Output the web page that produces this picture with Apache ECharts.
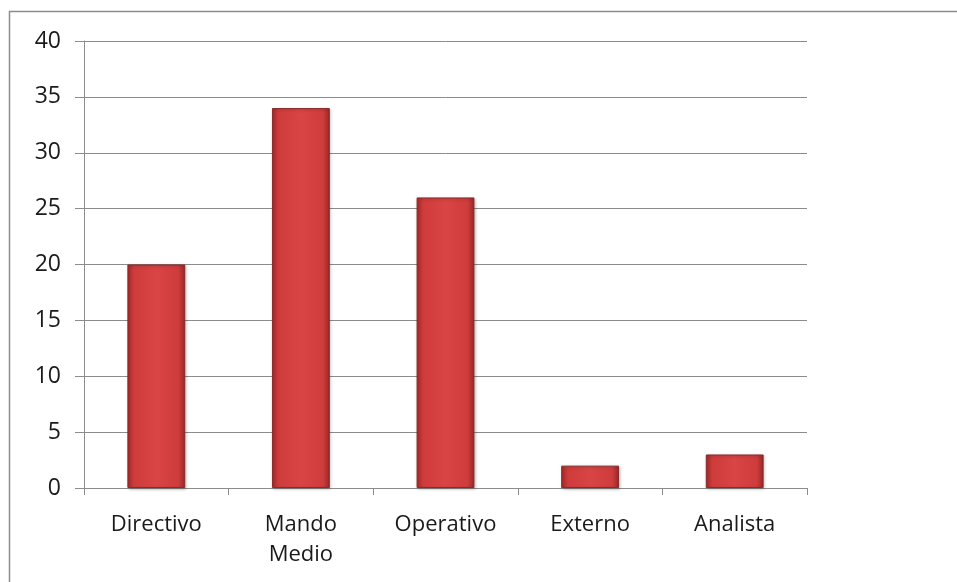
<!DOCTYPE html>
<html><head><meta charset="utf-8">
<script src="https://cdn.jsdelivr.net/npm/echarts@6/dist/echarts.min.js"></script>
<style>html,body{margin:0;padding:0;background:#fff}#c{width:957px;height:582px}</style>
</head><body><div id="c"></div>
<script>
const categories = ['Directivo', 'Mando\nMedio', 'Operativo', 'Externo', 'Analista'];
const values = [20, 34, 26, 2, 3];
const yTicks = {min: 0, max: 40, interval: 5};

const chart = echarts.init(document.getElementById('c'), null, {renderer: 'canvas'});
const font = '"Open Sans", "Liberation Sans", sans-serif';
chart.setOption({
  animation: false,
  backgroundColor: '#fff',
  graphic: [{
    type: 'rect', shape: {x: 9.5, y: 11.5, width: 1000, height: 1000},
    style: {fill: 'none', stroke: '#8c8c8c', lineWidth: 1.5}, z: 0
  }],
  grid: {left: 84, right: 150, top: 41, bottom: 94},
  xAxis: {
    type: 'category', data: categories,
    axisLine: {lineStyle: {color: '#8c8c8c', width: 1}},
    axisTick: {show: true, length: 7, alignWithLabel: false, lineStyle: {color: '#8c8c8c'}},
    axisLabel: {color: '#1a1a1a', fontSize: 22, fontFamily: font, margin: 22, lineHeight: 30, interval: 0}
  },
  yAxis: {
    type: 'value', min: yTicks.min, max: yTicks.max, interval: yTicks.interval,
    axisLine: {show: true, lineStyle: {color: '#8c8c8c', width: 1}},
    axisTick: {show: true, length: 9, lineStyle: {color: '#8c8c8c'}},
    splitLine: {lineStyle: {color: '#8c8c8c', width: 1}},
    axisLabel: {color: '#1a1a1a', fontSize: 23, fontFamily: font, margin: 23}
  },
  series: [{
    type: 'bar', data: values, barWidth: '40%',
    itemStyle: {
      color: new echarts.graphic.LinearGradient(0, 0, 1, 0, [
        {offset: 0, color: '#a82c2c'},
        {offset: 0.12, color: '#cf3c3c'},
        {offset: 0.5, color: '#d94444'},
        {offset: 0.88, color: '#cf3c3c'},
        {offset: 1, color: '#9a2828'}
      ]),
      borderColor: '#8a2a2a', borderWidth: 1,
      shadowColor: 'rgba(0,0,0,0.25)', shadowBlur: 3, shadowOffsetX: 1, shadowOffsetY: 1
    }
  }]
});
</script></body></html>
